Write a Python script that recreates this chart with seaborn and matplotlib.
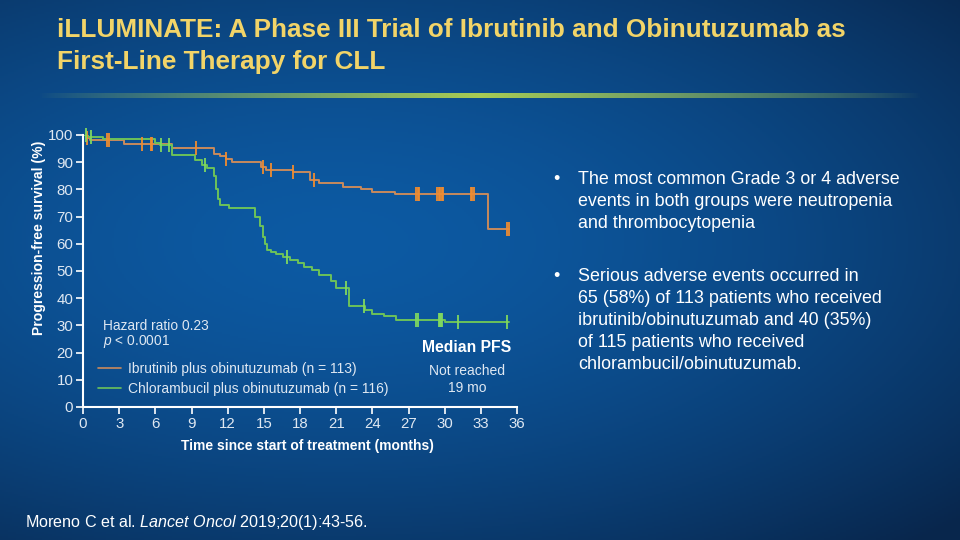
import numpy as np
import pandas as pd
import matplotlib
matplotlib.use("Agg")
import matplotlib.pyplot as plt
import seaborn as sns

# Kaplan-Meier step data (months, % progression-free)
ibr_times = [0, 0.3, 0.6, 3.4, 7.4, 10.9, 11.4, 11.9, 12.4, 14.8, 15.2, 17.4, 18.8, 19.6, 21.6, 23.1, 24.0, 25.9, 33.6, 35.3]
ibr_surv = [100, 99, 98.2, 96.6, 95.4, 93.0, 92.1, 91.2, 90.2, 88.2, 87.2, 86.3, 83.5, 82.3, 81.0, 80.2, 79.2, 78.3, 65.4, 65.4]
ibr_censor = [0.3, 2.0, 2.15, 4.9, 5.65, 5.75, 9.4, 11.9, 14.9, 15.6, 17.4, 19.2,
              27.6, 27.75, 27.9, 29.4, 29.55, 29.65, 29.75, 29.85, 32.15, 32.3, 32.45, 35.15, 35.3]

chl_times = [0, 0.4, 1.7, 6.0, 6.4, 7.4, 9.3, 9.9, 10.3, 10.9, 11.0, 11.2, 11.4, 12.1, 14.3, 14.7, 14.9, 15.1, 15.3, 15.6,
             16.0, 16.6, 17.2, 17.8, 18.3, 19.0, 19.6, 20.6, 21.0, 22.1, 23.4, 24.0, 25.0, 26.0, 30.0, 35.3]
chl_surv = [100, 99.4, 98.6, 97.2, 96.3, 92.5, 90.8, 89.0, 87.8, 85.0, 80.0, 76.5, 74.2, 73.1, 69.8, 66.5, 62.5, 59.8, 57.8, 57.0,
            56.4, 55.3, 54.1, 52.9, 51.6, 50.2, 48.6, 46.2, 43.7, 37.0, 35.7, 34.3, 33.3, 32.1, 31.1, 31.1]
chl_censor = [0.25, 0.7, 6.5, 7.1, 10.1, 16.9, 21.8, 23.3, 27.65, 27.75,
              29.5, 29.6, 29.7, 29.8, 31.1, 35.2]

arm_names = ["Ibrutinib plus obinutuzumab (n = 113)", "Chlorambucil plus obinutuzumab (n = 116)"]
arm_colors = ["#c98a5c", "#6cc25a"]
censor_colors = ["#f08c30", "#80d860"]
x_ticks = list(range(0, 37, 3))
y_ticks = list(range(0, 101, 10))

title = "iLLUMINATE: A Phase III Trial of Ibrutinib and Obinutuzumab as\nFirst-Line Therapy for CLL"
bullets = [
    "The most common Grade 3 or 4 adverse\nevents in both groups were neutropenia\nand thrombocytopenia",
    "Serious adverse events occurred in\n65 (58%) of 113 patients who received\nibrutinib/obinutuzumab and 40 (35%)\nof 115 patients who received\nchlorambucil/obinutuzumab.",
]

sns.set_style("white")
plt.rcParams["font.family"] = ["Liberation Sans", "DejaVu Sans"]
plt.rcParams["mathtext.fontset"] = "custom"
plt.rcParams["mathtext.rm"] = "Liberation Sans"
plt.rcParams["mathtext.it"] = "Liberation Sans:italic"

fig = plt.figure(figsize=(9.6, 5.4), dpi=100)

# slide background
bg = fig.add_axes([0, 0, 1, 1], zorder=-10)
yy, xx = np.mgrid[0:1:270j, 0:1:480j]
dist = np.sqrt(((xx - 0.35) / 0.9) ** 2 + ((yy - 0.45) / 0.75) ** 2)
t = np.clip(dist, 0, 1)
c_in = np.array([0x0d, 0x5a, 0xa3]) / 255
c_out = np.array([0x08, 0x26, 0x4c]) / 255
img = c_in[None, None, :] * (1 - t[..., None] ** 1.6) + c_out[None, None, :] * (t[..., None] ** 1.6)
bg.imshow(img, extent=[0, 1, 0, 1], aspect="auto", origin="upper")
# glowing rule under the title
gx = np.linspace(0, 1, 400)
glow = np.zeros((1, 400, 4))
glow[0, :, 0] = 0.66
glow[0, :, 1] = 0.80
glow[0, :, 2] = 0.33
glow[0, :, 3] = np.clip(1 - np.abs(gx - 0.5) / 0.5, 0, 1) ** 0.8
bg.imshow(glow, extent=[0.04, 0.96, 1 - 98.5 / 540, 1 - 94 / 540], aspect="auto")
bg.set_xlim(0, 1)
bg.set_ylim(0, 1)
bg.axis("off")

fig.text(57 / 960, 1 - 46 / 540, title, color="#f2d468", fontsize=18.8, fontweight="bold",
         va="center", linespacing=1.38)

ax = fig.add_axes([83 / 960, 1 - 407 / 540, 434 / 960, 272 / 540])
ax.set_facecolor("none")

for times, surv, censor, name, col, ccol in [
    (ibr_times, ibr_surv, ibr_censor, arm_names[0], arm_colors[0], censor_colors[0]),
    (chl_times, chl_surv, chl_censor, arm_names[1], arm_colors[1], censor_colors[1]),
]:
    df = pd.DataFrame({"time": times, "surv": surv})
    sns.lineplot(data=df, x="time", y="surv", ax=ax, color=col, lw=1.4,
                 drawstyle="steps-post", estimator=None, sort=False, label=name)
    idx = np.searchsorted(times, censor, side="right") - 1
    cdf = pd.DataFrame({"time": censor, "surv": np.array(surv)[idx]})
    sns.scatterplot(data=cdf, x="time", y="surv", ax=ax, marker="|", s=95, color=ccol,
                    linewidth=1.3, clip_on=False, zorder=3)

ax.set_xlim(0, 36)
ax.set_ylim(0, 100)
ax.set_xticks(x_ticks)
ax.set_yticks(y_ticks)
for s in ["top", "right"]:
    ax.spines[s].set_visible(False)
for s in ["left", "bottom"]:
    ax.spines[s].set_color("white")
    ax.spines[s].set_linewidth(1.5)
ax.tick_params(axis="both", colors="white", labelcolor="#dfe8f2", labelsize=10.8,
               direction="out", length=5, width=1.2, left=True, bottom=True, pad=2)
ax.set_xlabel("Time since start of treatment (months)", color="white", fontsize=10,
              fontweight="bold")
ax.xaxis.set_label_coords(0.516, -0.118)
ax.set_ylabel("Progression-free survival (%)", color="white", fontsize=10.1,
              fontweight="bold")
ax.yaxis.set_label_coords(-0.086, 0.623)

leg = ax.legend(loc="lower left", bbox_to_anchor=(0.0346, 0.04), frameon=False, fontsize=10,
                labelcolor="#dfe8f2", handlelength=1.65, handletextpad=0.5, labelspacing=0.45,
                borderpad=0, borderaxespad=0)
for line in leg.get_lines():
    line.set_linewidth(1.2)

ax.text(0.046, 0.298, "Hazard ratio 0.23", transform=ax.transAxes, color="#dfe8f2", fontsize=9.9, va="center")
ax.text(0.046, 0.239, "$p$ < 0.0001", transform=ax.transAxes, color="#dfe8f2", fontsize=9.9, va="center")
ax.text(0.885, 0.217, "Median PFS", transform=ax.transAxes, color="white", fontsize=11.3,
        fontweight="bold", ha="center", va="center")
ax.text(0.885, 0.132, "Not reached", transform=ax.transAxes, color="#dfe8f2", fontsize=10,
        ha="center", va="center")
ax.text(0.885, 0.070, "19 mo", transform=ax.transAxes, color="#dfe8f2", fontsize=10,
        ha="center", va="center")

for txt, ytop in zip(bullets, [169, 266]):
    fig.text(553 / 960, 1 - (ytop + 2) / 540, "•", color="white", fontsize=12.9, va="top")
    fig.text(578 / 960, 1 - (ytop + 2) / 540, txt, color="white", fontsize=12.9, va="top", linespacing=1.39)

fig.text(25 / 960, 1 - 522 / 540, "Moreno C et al. $\\it{Lancet\\ Oncol}$ 2019;20(1):43-56.",
         color="white", fontsize=11.6, va="center")

fig.savefig("out.png", dpi=100)
